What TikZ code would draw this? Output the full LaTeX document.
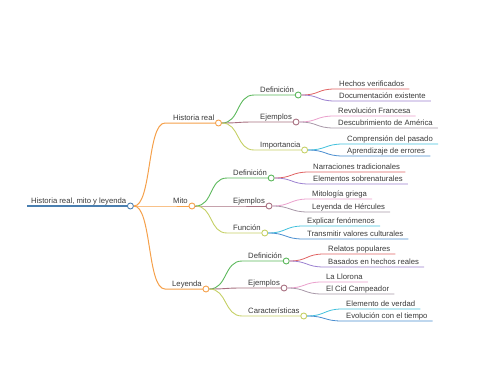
\documentclass[tikz,border=0pt]{standalone}
\usepackage{fontspec}
\setmainfont{Liberation Sans}
\usetikzlibrary{calc}
\definecolor{textc}{HTML}{3A3A3A}
\definecolor{rootc}{HTML}{4A7FB0}
\definecolor{orangec}{HTML}{F5A04A}
\definecolor{greenc}{HTML}{5CB85C}
\definecolor{mauvec}{HTML}{A87080}
\definecolor{yellowc}{HTML}{C5D065}
\definecolor{redc}{HTML}{E06262}
\definecolor{purplec}{HTML}{9B80D0}
\definecolor{pinkc}{HTML}{EAA0CC}
\definecolor{greyc}{HTML}{A898A8}
\definecolor{cyanc}{HTML}{40C0DC}
\definecolor{bluec}{HTML}{4A8ED0}
\tikzset{
  txt/.style={font=\fontsize{7.7}{9}\selectfont, text=textc, inner sep=0pt},
  dot/.style={circle, draw, fill=white, minimum size=6pt, inner sep=0pt, line width=0.9pt},
  lone/.style={line width=1pt},
  ltwo/.style={line width=0.9pt},
  lthree/.style={line width=0.8pt},
}
% leaf: name, parent, curve end x, line y, colour, text
\newcommand{\mmleaf}[6]{%
  \node[txt, anchor=base west] (#1) at (#3+4,#4-3) {#6};
  \draw[#5, lthree] (#2.east) .. controls +(18,0) and +(-18,0) .. (#3,#4) -- ($(#1.base east)+(5,3)$);
}
% branch: name, parent, curve end x, line y, colour, text, text offset, style
\newcommand{\mmmid}[8]{%
  \node[txt, anchor=base west] (#1) at (#3+#7,#4-3) {#6};
  \coordinate (#1p) at ($(#1.base east)+(4,3)$);
  \draw[#5, #8] (#2.east) .. controls +(18,0) and +(-18,0) .. (#3,#4) -- ($(#1p)+(-3,0)$);
  \node[dot, draw=#5] (#1c) at (#1p) {};
}
\begin{document}
\begin{tikzpicture}[x=1pt,y=-1pt]
\useasboundingbox (0,0) rectangle (480,384);
% root
\node[txt, anchor=base west] (root) at (31,203) {Historia real, mito y leyenda};
\coordinate (rootp) at ($(root.base east)+(4,3)$);
\draw[rootc, line width=1.2pt] (27,206) -- ($(rootp)+(-3,0)$);
\node[dot, draw=rootc] (rootc) at (rootp) {};
% level 1
\mmmid{hr}{rootc}{165}{123}{orangec}{Historia real}{8}{lone}
\mmmid{mi}{rootc}{165}{206}{orangec}{Mito}{8}{lone}
\mmmid{le}{rootc}{165}{289}{orangec}{Leyenda}{7}{lone}
% level 2
\mmmid{hrd}{hrc}{254}{95}{greenc}{Definición}{6}{ltwo}
\mmmid{hre}{hrc}{254}{122}{mauvec}{Ejemplos}{6}{ltwo}
\mmmid{hri}{hrc}{254}{150}{yellowc}{Importancia}{6}{ltwo}
\mmmid{mid}{mic}{227}{178}{greenc}{Definición}{6}{ltwo}
\mmmid{mie}{mic}{227}{206}{mauvec}{Ejemplos}{6}{ltwo}
\mmmid{mif}{mic}{227}{233}{yellowc}{Función}{6}{ltwo}
\mmmid{led}{lec}{242}{261}{greenc}{Definición}{6}{ltwo}
\mmmid{lee}{lec}{242}{288}{mauvec}{Ejemplos}{6}{ltwo}
\mmmid{lec2}{lec}{242}{316}{yellowc}{Características}{6}{ltwo}
% level 3
\mmleaf{a1}{hrdc}{335}{89}{redc}{Hechos verificados}
\mmleaf{a2}{hrdc}{335}{101}{purplec}{Documentación existente}
\mmleaf{a3}{hrec}{334}{116}{pinkc}{Revolución Francesa}
\mmleaf{a4}{hrec}{334}{128}{greyc}{Descubrimiento de América}
\mmleaf{a5}{hric}{343}{144}{cyanc}{Comprensión del pasado}
\mmleaf{a6}{hric}{343}{156}{bluec}{Aprendizaje de errores}
\mmleaf{b1}{midc}{309}{172}{redc}{Narraciones tradicionales}
\mmleaf{b2}{midc}{309}{184}{purplec}{Elementos sobrenaturales}
\mmleaf{b3}{miec}{308}{199}{pinkc}{Mitología griega}
\mmleaf{b4}{miec}{308}{212}{greyc}{Leyenda de Hércules}
\mmleaf{b5}{mifc}{303}{226}{cyanc}{Explicar fenómenos}
\mmleaf{b6}{mifc}{303}{239}{bluec}{Transmitir valores culturales}
\mmleaf{c1}{ledc}{324}{254}{redc}{Relatos populares}
\mmleaf{c2}{ledc}{324}{267}{purplec}{Basados en hechos reales}
\mmleaf{c3}{leec}{322}{282}{pinkc}{La Llorona}
\mmleaf{c4}{leec}{322}{294}{greyc}{El Cid Campeador}
\mmleaf{c5}{lec2c}{342}{309}{cyanc}{Elemento de verdad}
\mmleaf{c6}{lec2c}{342}{321}{bluec}{Evolución con el tiempo}
\end{tikzpicture}
\end{document}
